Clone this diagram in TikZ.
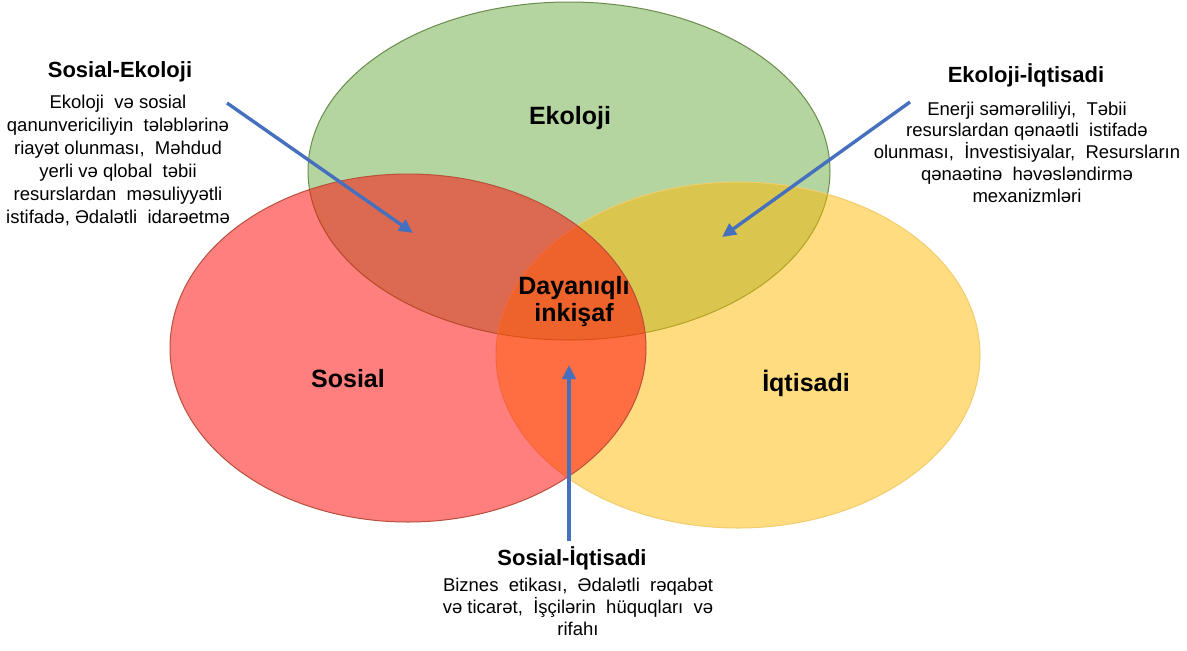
\documentclass[tikz,border=0pt]{standalone}
\usepackage{fontspec}
\setmainfont{Liberation Sans}
\usetikzlibrary{arrows.meta}
\definecolor{ekogreen}{RGB}{181,213,160}
\definecolor{ekoline}{RGB}{105,140,75}
\definecolor{sosred}{RGB}{255,12,12}
\definecolor{sosline}{RGB}{185,80,60}
\definecolor{iqtyellow}{RGB}{255,185,0}
\definecolor{iqtline}{RGB}{240,205,110}
\definecolor{arrowblue}{RGB}{70,112,190}
\begin{document}
\begin{tikzpicture}[x=1pt,y=-1pt,
  big/.style={font=\fontsize{25}{27}\selectfont\bfseries,align=center,inner sep=0pt},
  head/.style={font=\fontsize{22}{24}\selectfont\bfseries,inner sep=0pt},
  body/.style={font=\fontsize{18.5}{23}\selectfont,align=center,inner sep=0pt},
  pointer/.style={-{Triangle[length=14pt,width=13pt]},line width=3.4pt,arrowblue}]
\useasboundingbox (0,0) rectangle (1187,651);

% the three circles
\filldraw [fill=ekogreen,draw=ekoline,line width=1pt] (569,171) ellipse (261pt and 169pt);
\filldraw [fill=iqtyellow,fill opacity=0.5,draw=iqtline,line width=1pt] (738,355) ellipse (242pt and 173pt);
\filldraw [fill=sosred,fill opacity=0.53,draw=sosline,line width=1pt] (408,348) ellipse (238pt and 174pt);

\node (eko) [big] at (570,118) {Ekoloji};
\node (sos) [big] at (348,379) {Sosial};
\node (iqt) [big] at (806,383) {İqtisadi};
\node (day) [big] at (574,302) {Dayanıqlı\\inkişaf};

% texts
\node (seh) [head] at (120,72) {Sosial-Ekoloji};
\node (seb) [body] at (118,160) {Ekoloji~ və sosial\\qanunvericiliyin~ tələblərinə\\riayət olunması,~ Məhdud\\yerli və qlobal~ təbii\\resurslardan~ məsuliyyətli\\istifadə, Ədalətli~ idarəetmə};
\node (eih) [head] at (1026,75) {Ekoloji-İqtisadi};
\node (eib) [body,font=\fontsize{18.5}{21.75}\selectfont] at (1027,152) {Enerji səmərəliliyi,~ Təbii\\resurslardan qənaətli~ istifadə\\olunması,~ İnvestisiyalar,~ Resursların\\qənaətinə~ həvəsləndirmə\\mexanizmləri};
\node (sih) [head] at (572,558) {Sosial-İqtisadi};
\node (sib) [body,font=\fontsize{18.5}{21.75}\selectfont] at (578,607) {Biznes~ etikası,~ Ədalətli~ rəqabət\\və ticarət,~ İşçilərin~ hüquqları~ və\\rifahı};

% arrows
\coordinate (se0) at (227,103);
\coordinate (se1) at (413,233);
\coordinate (ei0) at (910,102);
\coordinate (ei1) at (722,237);
\coordinate (si0) at (569,541);
\coordinate (si1) at (569,365);
\draw [pointer] (se0) -- (se1);
\draw [pointer] (ei0) -- (ei1);
\draw [pointer] (si0) -- (si1);
\end{tikzpicture}
\end{document}
